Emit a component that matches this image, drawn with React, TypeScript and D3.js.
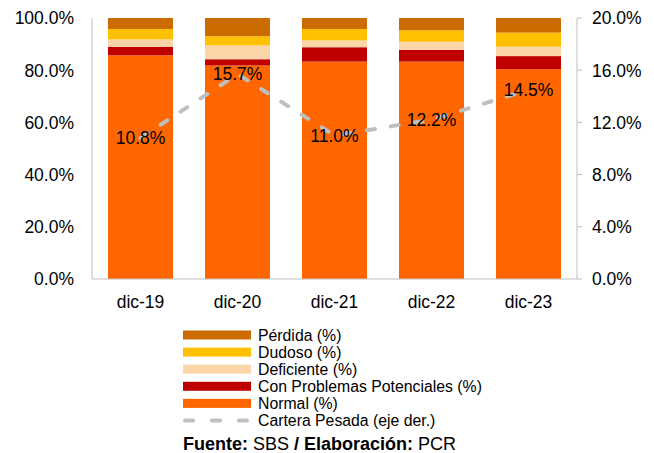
import React, { useEffect, useRef } from "react";
import * as d3 from "d3";

const categories = ["dic-19", "dic-20", "dic-21", "dic-22", "dic-23"];
const normal = [85.7, 81.8, 83.3, 83.3, 80.4];
const cpp = [3.3, 2.4, 5.5, 4.5, 5.0];
const deficiente = [2.8, 5.3, 2.6, 3.1, 3.6];
const dudoso = [4.0, 3.5, 4.4, 4.4, 5.4];
const perdida = [4.2, 7.0, 4.2, 4.7, 5.6];
const carteraPesada = [10.8, 15.7, 11.0, 12.2, 14.5];
const leftTicks = [0, 20, 40, 60, 80, 100];
const rightTicks = [0, 4, 8, 12, 16, 20];

const series = [
  { name: "Normal (%)", values: normal, color: "#FF6600" },
  { name: "Con Problemas Potenciales (%)", values: cpp, color: "#C00000" },
  { name: "Deficiente (%)", values: deficiente, color: "#FCD5A8" },
  { name: "Dudoso (%)", values: dudoso, color: "#FFC000" },
  { name: "Pérdida (%)", values: perdida, color: "#CC6C00" },
];

const FONT = "'Liberation Sans', Arial, sans-serif";

const App: React.FC = () => {
  const svgRef = useRef<SVGSVGElement>(null);

  useEffect(() => {
    const svg = d3.select(svgRef.current);
    svg.selectAll("*").remove();

    const left = 92;
    const right = 577;
    const top = 18;
    const bottom = 279;

    const x = d3.scaleBand().domain(categories).range([left, right]).paddingInner(0.33).paddingOuter(0.165);
    const yL = d3.scaleLinear().domain([0, 100]).range([bottom, top]);
    const yR = d3.scaleLinear().domain([0, 20]).range([bottom, top]);

    // barras apiladas
    const rows = categories.map((c, i) => {
      const r: any = { cat: c };
      series.forEach((s) => (r[s.name] = s.values[i]));
      return r;
    });
    const stack = d3.stack<any>().keys(series.map((s) => s.name))(rows);

    stack.forEach((layer, k) => {
      svg
        .append("g")
        .selectAll("rect")
        .data(layer)
        .join("rect")
        .attr("x", (d) => x(d.data.cat)!)
        .attr("width", x.bandwidth())
        .attr("y", (d) => yL(Math.min(d[1], 100)))
        .attr("height", (d) => yL(d[0]) - yL(Math.min(d[1], 100)))
        .attr("fill", series[k].color);
    });

    // ejes
    const axisColor = "#BFBFBF";
    svg.append("line").attr("x1", left).attr("x2", left).attr("y1", top).attr("y2", bottom).attr("stroke", axisColor);
    svg.append("line").attr("x1", right).attr("x2", right).attr("y1", top).attr("y2", bottom).attr("stroke", axisColor);
    svg.append("line").attr("x1", left).attr("x2", right).attr("y1", bottom).attr("y2", bottom).attr("stroke", axisColor);

    leftTicks.forEach((t) => {
      svg
        .append("text")
        .attr("x", 74)
        .attr("y", yL(t))
        .attr("dy", "0.36em")
        .attr("text-anchor", "end")
        .attr("font-size", 17.5)
        .attr("font-family", FONT)
        .text(t.toFixed(1) + "%");
    });
    rightTicks.forEach((t) => {
      svg.append("line").attr("x1", right).attr("x2", right + 5).attr("y1", yR(t)).attr("y2", yR(t)).attr("stroke", axisColor);
      svg
        .append("text")
        .attr("x", 592)
        .attr("y", yR(t))
        .attr("dy", "0.36em")
        .attr("font-size", 17.5)
        .attr("font-family", FONT)
        .text(t.toFixed(1) + "%");
    });
    categories.forEach((c) => {
      svg
        .append("text")
        .attr("x", x(c)! + x.bandwidth() / 2)
        .attr("y", 302)
        .attr("dy", "0.36em")
        .attr("text-anchor", "middle")
        .attr("font-size", 17.5)
        .attr("font-family", FONT)
        .text(c);
    });

    // cartera pesada
    const line = d3
      .line<number>()
      .x((_, i) => x(categories[i])! + x.bandwidth() / 2)
      .y((d) => yR(d));
    svg
      .append("path")
      .attr("d", line(carteraPesada))
      .attr("fill", "none")
      .attr("stroke", "#BFBFBF")
      .attr("stroke-width", 4)
      .attr("stroke-linecap", "round")
      .attr("stroke-dasharray", "8,16");

    carteraPesada.forEach((v, i) => {
      svg
        .append("text")
        .attr("x", x(categories[i])! + x.bandwidth() / 2)
        .attr("y", yR(v))
        .attr("dy", "0.36em")
        .attr("text-anchor", "middle")
        .attr("font-size", 17.5)
        .attr("font-family", FONT)
        .text(v.toFixed(1) + "%");
    });

    // leyenda
    const legend = [...series].reverse();
    const lg = svg.append("g").attr("font-family", FONT).attr("font-size", 15.8);
    legend.forEach((s, i) => {
      const cy = 335 + i * 17.1;
      lg.append("rect").attr("x", 183).attr("y", cy - 4.5).attr("width", 68).attr("height", 9).attr("fill", s.color);
      lg.append("text").attr("x", 258).attr("y", cy).attr("dy", "0.36em").text(s.name);
    });
    const cyLine = 335 + 5 * 17.1;
    lg.append("line")
      .attr("x1", 185)
      .attr("x2", 251)
      .attr("y1", cyLine)
      .attr("y2", cyLine)
      .attr("stroke", "#BFBFBF")
      .attr("stroke-width", 4)
      .attr("stroke-linecap", "round")
      .attr("stroke-dasharray", "8,19");
    lg.append("text").attr("x", 258).attr("y", cyLine).attr("dy", "0.36em").text("Cartera Pesada (eje der.)");

    const foot = svg
      .append("text")
      .attr("x", 183)
      .attr("y", 443.5)
      .attr("dy", "0.36em")
      .attr("font-family", FONT)
      .attr("font-size", 18);
    foot.append("tspan").attr("font-weight", "bold").text("Fuente:");
    foot.append("tspan").text(" SBS ");
    foot.append("tspan").attr("font-weight", "bold").text("/ Elaboración:");
    foot.append("tspan").text(" PCR");
  }, []);

  return (
    <svg
      ref={svgRef}
      width={654}
      height={453}
      style={{ position: "absolute", left: 0, top: 0, background: "#fff" }}
    ></svg>
  );
};

export default App;
